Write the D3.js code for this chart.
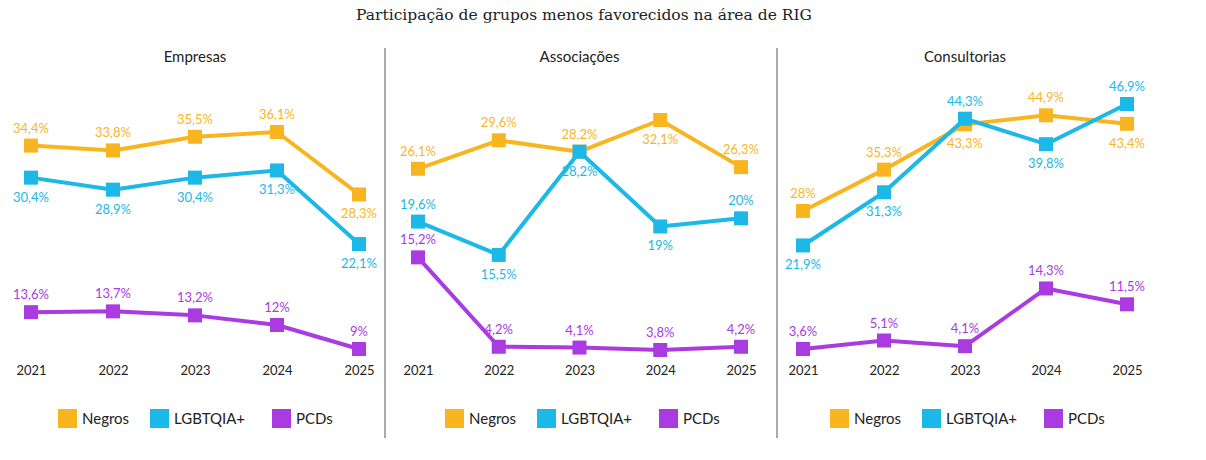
<!DOCTYPE html><html><head><meta charset="utf-8">
<script src="https://cdn.jsdelivr.net/npm/d3@7"></script>
<style>body{margin:0;background:#fff;font-family:Lato,sans-serif}</style></head><body>
<svg id="c" width="1206" height="460"></svg>
<script>
const years=["2021","2022","2023","2024","2025"];
const panels=["Empresas","Associações","Consultorias"];
const seriesNames=["Negros","LGBTQIA+","PCDs"];
const colors=["#F9B51F","#1BB8E8","#A93BE0"];
const empresas=[[34.4,33.8,35.5,36.1,28.3],[30.4,28.9,30.4,31.3,22.1],[13.6,13.7,13.2,12,9]];
const associacoes=[[26.1,29.6,28.2,32.1,26.3],[19.6,15.5,28.2,19,20],[15.2,4.2,4.1,3.8,4.2]];
const consultorias=[[28,35.3,43.3,44.9,43.4],[21.9,31.3,44.3,39.8,46.9],[3.6,5.1,4.1,14.3,11.5]];
// label side: 1 above, -1 below
const sides=[
 [[1,1,1,1,-1],[-1,-1,-1,-1,-1],[1,1,1,1,1]],
 [[1,1,1,-1,1],[1,-1,-1,-1,1],[1,1,1,1,1]],
 [[1,1,-1,1,-1],[-1,-1,1,-1,1],[1,1,1,1,1]]];
const data=[empresas,associacoes,consultorias];
const svg=d3.select("#c");
svg.append("text").attr("x",584).attr("y",20).attr("text-anchor","middle").attr("font-size",17).attr("font-family","DejaVu Serif, serif").attr("font-size",15.5).attr("fill","#222").text("Participação de grupos menos favorecidos na área de RIG");
const xs=[[31,359],[418,741],[803,1127]];
const ranges=[[349,132],[350,120],[349,104]];
const fmt=v=>String(v).replace(".",",")+"%";
[385,777].forEach(x=>svg.append("line").attr("x1",x).attr("x2",x).attr("y1",48).attr("y2",438).attr("stroke","#555").attr("stroke-width",1));
data.forEach((ser,p)=>{
  const x=d3.scalePoint().domain(years).range(xs[p]);
  const all=ser.flat();
  const y=d3.scaleLinear().domain([d3.min(all),d3.max(all)]).range(ranges[p]);
  const g=svg.append("g");
  const cx=(xs[p][0]+xs[p][1])/2;
  g.append("text").attr("x",cx).attr("y",62).attr("text-anchor","middle").attr("font-size",15).attr("fill","#222").text(panels[p]);
  const ax=g.append("g").attr("transform","translate(0,358)").call(d3.axisBottom(x).tickSize(0).tickPadding(8));
  ax.select(".domain").remove();
  ax.selectAll("text").attr("font-size",13).attr("font-family","Lato").attr("fill","#222");
  ser.forEach((vals,s)=>{
    const pts=vals.map((v,i)=>[x(years[i]),y(v)]);
    g.append("path").attr("d",d3.line()(pts)).attr("fill","none").attr("stroke",colors[s]).attr("stroke-width",4).attr("stroke-linejoin","round");
    pts.forEach(([px,py])=>g.append("rect").attr("x",px-7).attr("y",py-7).attr("width",14).attr("height",14).attr("fill",colors[s]));
    pts.forEach(([px,py],i)=>g.append("text").attr("x",px).attr("y",sides[p][s][i]>0?py-13:py+24).attr("text-anchor","middle").attr("font-size",13).attr("fill",colors[s]).text(fmt(vals[i])));
  });
  const lx=xs[p][0]+27;
  const offs=[0,92,214];
  seriesNames.forEach((n,s)=>{
    g.append("rect").attr("x",lx+offs[s]).attr("y",409).attr("width",19).attr("height",19).attr("fill",colors[s]);
    g.append("text").attr("x",lx+offs[s]+24).attr("y",424).attr("font-size",15).attr("fill","#222").text(n);
  });
});
</script></body></html>
